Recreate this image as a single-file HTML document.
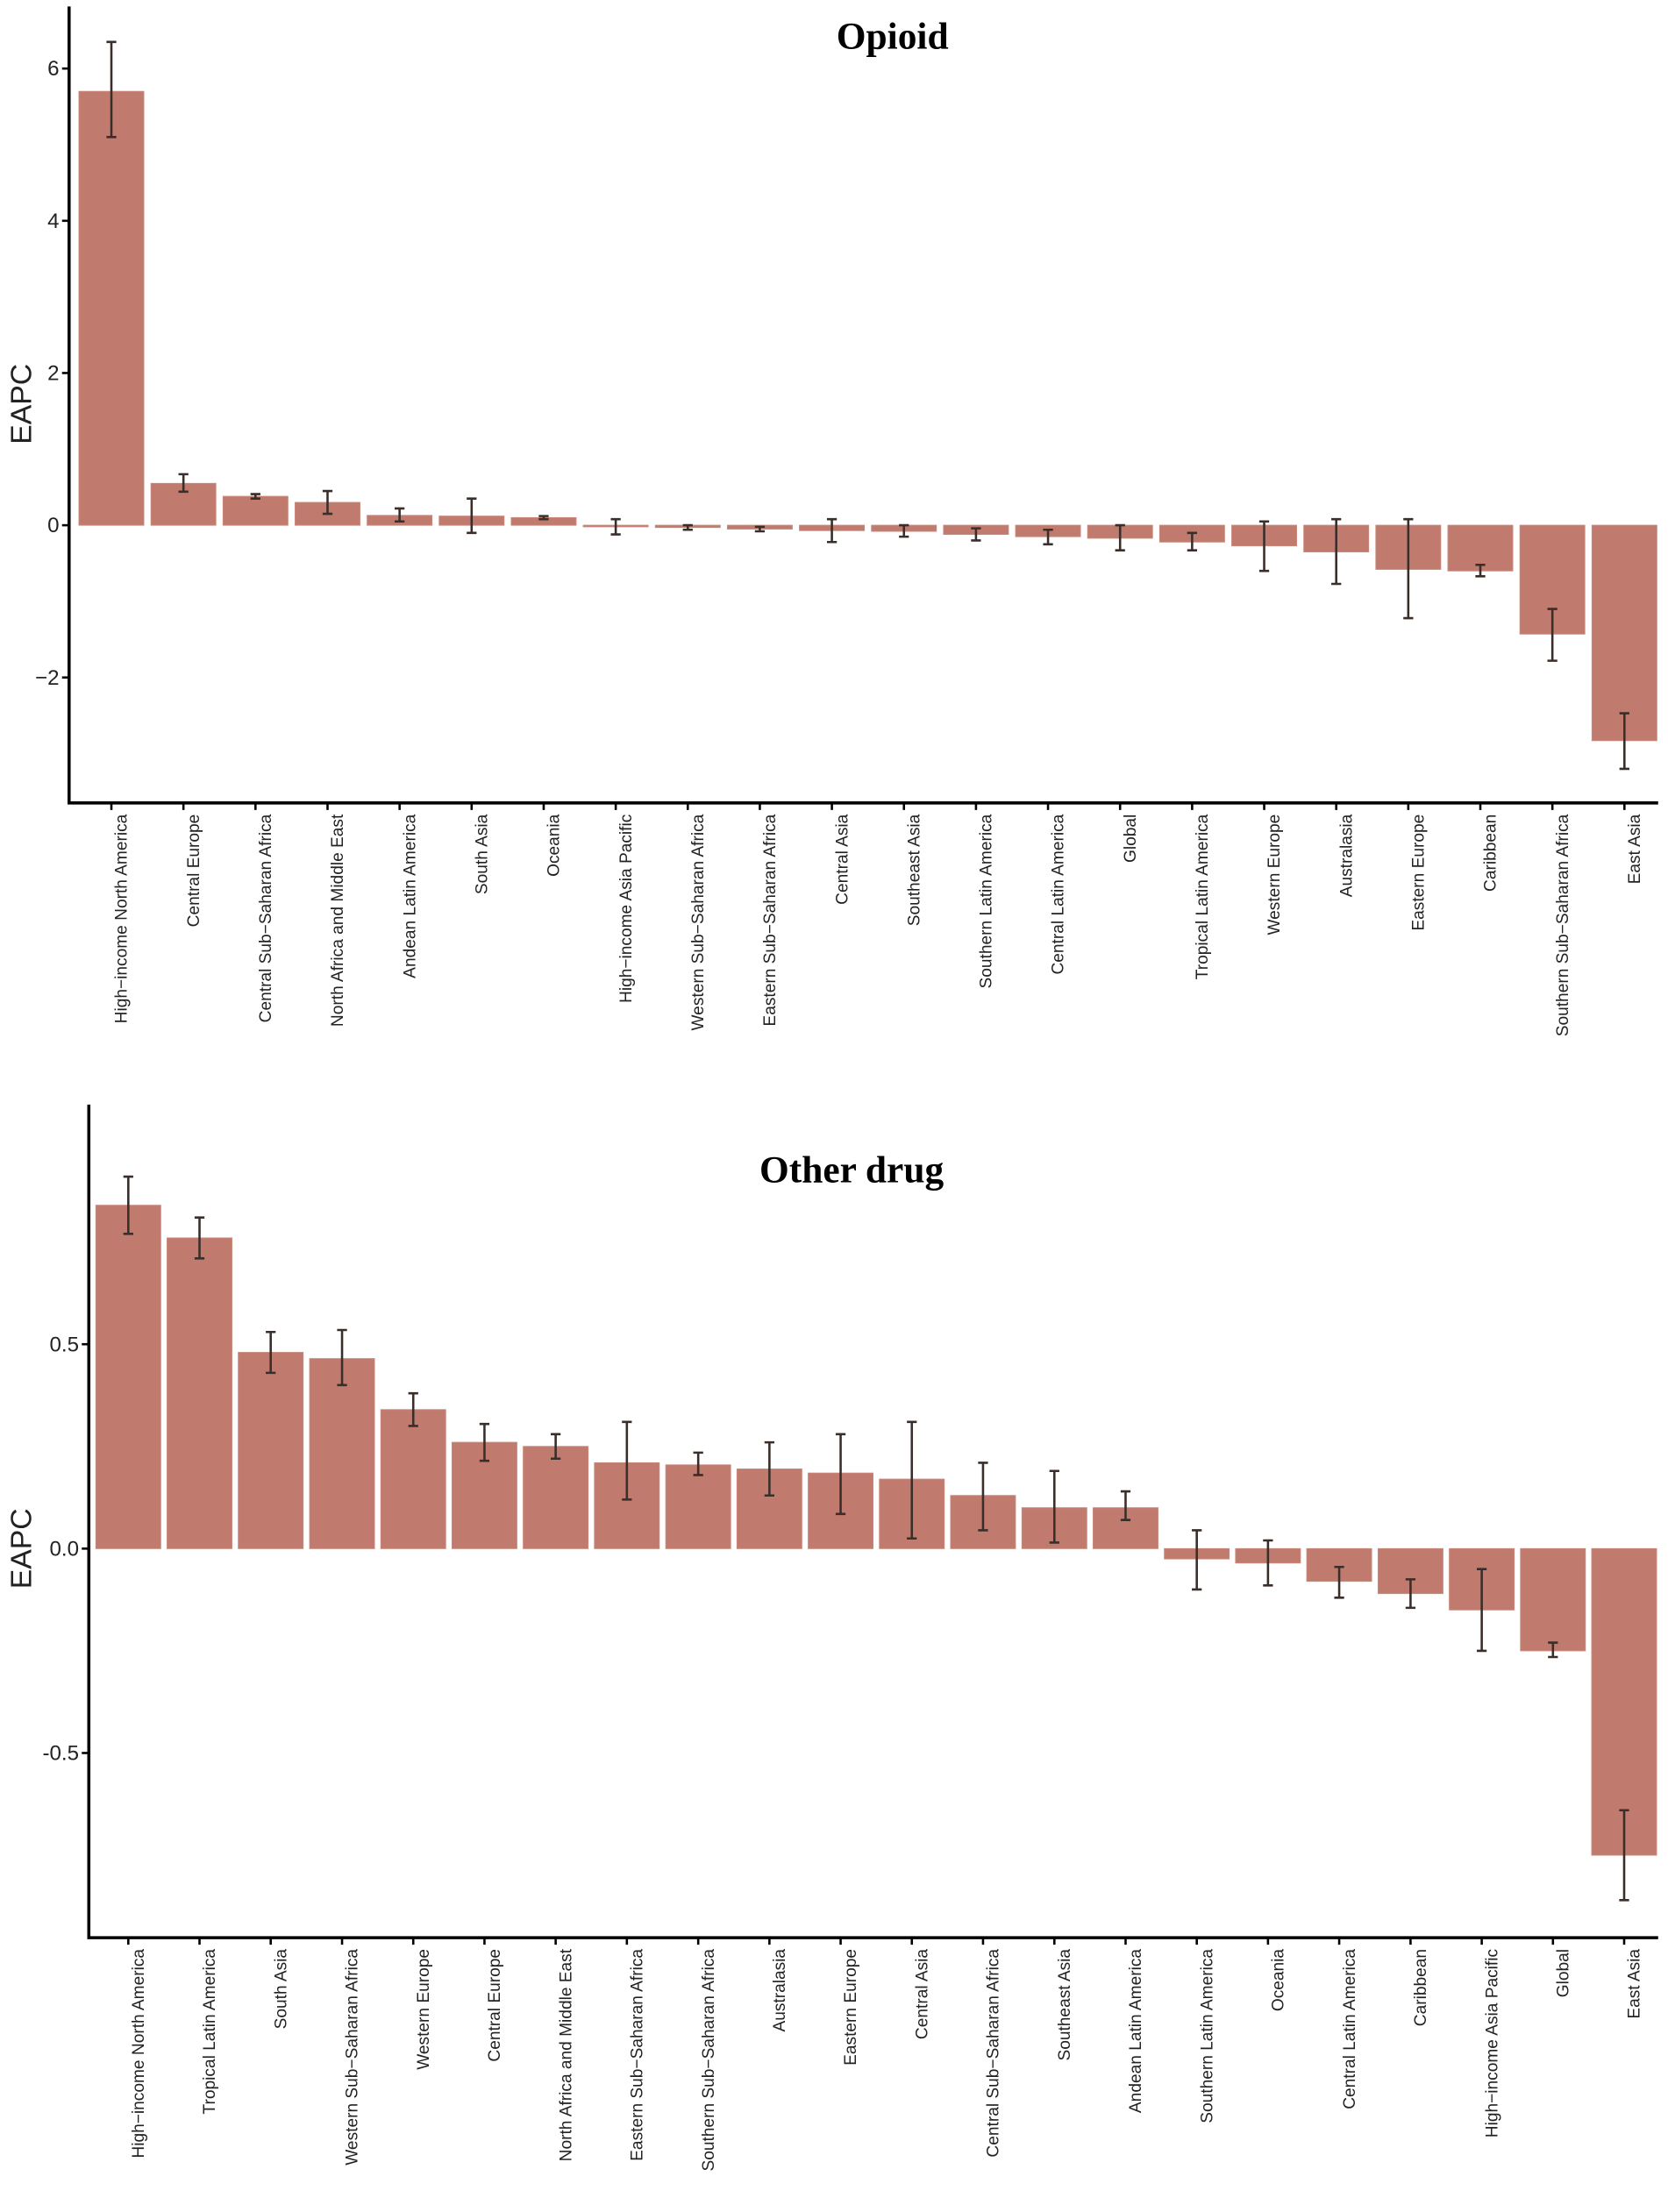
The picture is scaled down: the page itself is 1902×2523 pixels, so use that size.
<!DOCTYPE html>
<html><head><meta charset="utf-8"><style>
html,body{margin:0;padding:0;background:#fff;}
svg{display:block;}
.b{fill:#c17b6e;stroke:#c9877a;stroke-width:0.6}
.e{stroke:#3a2e2a;stroke-width:1.6;fill:none}
.t{font-family:"Liberation Sans",sans-serif;font-size:11.9px;fill:#222}
.y{font-family:"Liberation Sans",sans-serif;font-size:15px;fill:#222}
.ttl{font-family:"Liberation Serif",serif;font-weight:bold;font-size:27px;fill:#000}
.ax{stroke:#000;stroke-width:2.2;fill:none}
.tk{stroke:#000;stroke-width:1.6}
</style></head><body>
<svg width="1902" height="2523" viewBox="0 0 1183 1568" xmlns="http://www.w3.org/2000/svg">
<text class="ttl" x="633" y="34" text-anchor="middle">Opioid</text>
<text class="y" x="0" y="0" transform="translate(22,286) rotate(-90)" text-anchor="middle" style="font-size:21px">EAPC</text>
<g class="y" text-anchor="end">
<text x="42" y="53">6</text><text x="42" y="161">4</text><text x="42" y="269">2</text><text x="42" y="377">0</text><text x="42" y="485">−2</text>
</g>
<g class="tk"><line x1="44" y1="48" x2="49" y2="48"/><line x1="44" y1="156" x2="49" y2="156"/><line x1="44" y1="264" x2="49" y2="264"/><line x1="44" y1="372" x2="49" y2="372"/><line x1="44" y1="480" x2="49" y2="480"/></g>
<g>
<rect class="b" x="56" y="64.2" width="46" height="307.8"/>
<rect class="b" x="107.1" y="342.3" width="46" height="29.7"/>
<rect class="b" x="158.2" y="351.5" width="46" height="20.5"/>
<rect class="b" x="209.3" y="355.8" width="46" height="16.2"/>
<rect class="b" x="260.4" y="365" width="46" height="7"/>
<rect class="b" x="311.5" y="365.5" width="46" height="6.5"/>
<rect class="b" x="362.6" y="366.6" width="46" height="5.4"/>
<rect class="b" x="413.7" y="372" width="46" height="1.1"/>
<rect class="b" x="464.8" y="372" width="46" height="1.6"/>
<rect class="b" x="515.9" y="372" width="46" height="2.7"/>
<rect class="b" x="567" y="372" width="46" height="3.8"/>
<rect class="b" x="618.1" y="372" width="46" height="4.3"/>
<rect class="b" x="669.2" y="372" width="46" height="6.5"/>
<rect class="b" x="720.3" y="372" width="46" height="8.1"/>
<rect class="b" x="771.4" y="372" width="46" height="9.2"/>
<rect class="b" x="822.5" y="372" width="46" height="11.9"/>
<rect class="b" x="873.6" y="372" width="46" height="14.6"/>
<rect class="b" x="924.7" y="372" width="46" height="18.9"/>
<rect class="b" x="975.8" y="372" width="46" height="31.3"/>
<rect class="b" x="1026.9" y="372" width="46" height="32.4"/>
<rect class="b" x="1078" y="372" width="46" height="77.2"/>
<rect class="b" x="1129.1" y="372" width="46" height="152.8"/>
</g>
<path class="e" d="
M79 29.1V96.6M75.5 29.1h7M75.5 96.6h7
M130.1 335.8V348.2M126.6 335.8h7M126.6 348.2h7
M181.2 349.9V353.1M177.7 349.9h7M177.7 353.1h7
M232.3 347.7V363.9M228.8 347.7h7M228.8 363.9h7
M283.4 360.1V369.3M279.9 360.1h7M279.9 369.3h7
M334.5 353.1V377.4M331 353.1h7M331 377.4h7
M385.6 365.5V367.7M382.1 365.5h7M382.1 367.7h7
M436.7 367.7V378.5M433.2 367.7h7M433.2 378.5h7
M487.8 372V375.2M484.3 372h7M484.3 375.2h7
M538.9 373.1V376.3M535.4 373.1h7M535.4 376.3h7
M590 367.7V383.9M586.5 367.7h7M586.5 383.9h7
M641.1 372V380.1M637.6 372h7M637.6 380.1h7
M692.2 374.2V382.8M688.7 374.2h7M688.7 382.8h7
M743.3 375.2V385.5M739.8 375.2h7M739.8 385.5h7
M794.4 372V389.8M790.9 372h7M790.9 389.8h7
M845.5 377.4V389.8M842 377.4h7M842 389.8h7
M896.6 369.3V404.4M893.1 369.3h7M893.1 404.4h7
M947.7 367.7V413.6M944.2 367.7h7M944.2 413.6h7
M998.8 367.7V437.9M995.3 367.7h7M995.3 437.9h7
M1049.9 400.1V408.2M1046.4 400.1h7M1046.4 408.2h7
M1101 431.4V468.1M1097.5 431.4h7M1097.5 468.1h7
M1152.1 505.4V544.8M1148.6 505.4h7M1148.6 544.8h7"/>
<path class="ax" d="M49 4V569H1176"/>
<g class="tk">
<line x1="79" y1="569" x2="79" y2="574"/><line x1="130.1" y1="569" x2="130.1" y2="574"/><line x1="181.2" y1="569" x2="181.2" y2="574"/><line x1="232.3" y1="569" x2="232.3" y2="574"/><line x1="283.4" y1="569" x2="283.4" y2="574"/><line x1="334.5" y1="569" x2="334.5" y2="574"/><line x1="385.6" y1="569" x2="385.6" y2="574"/><line x1="436.7" y1="569" x2="436.7" y2="574"/><line x1="487.8" y1="569" x2="487.8" y2="574"/><line x1="538.9" y1="569" x2="538.9" y2="574"/><line x1="590" y1="569" x2="590" y2="574"/><line x1="641.1" y1="569" x2="641.1" y2="574"/><line x1="692.2" y1="569" x2="692.2" y2="574"/><line x1="743.3" y1="569" x2="743.3" y2="574"/><line x1="794.4" y1="569" x2="794.4" y2="574"/><line x1="845.5" y1="569" x2="845.5" y2="574"/><line x1="896.6" y1="569" x2="896.6" y2="574"/><line x1="947.7" y1="569" x2="947.7" y2="574"/><line x1="998.8" y1="569" x2="998.8" y2="574"/><line x1="1049.9" y1="569" x2="1049.9" y2="574"/><line x1="1101" y1="569" x2="1101" y2="574"/><line x1="1152.1" y1="569" x2="1152.1" y2="574"/>
</g>
<g class="t" text-anchor="end">
<text transform="translate(90,577) rotate(-90)">High−income North America</text>
<text transform="translate(141.1,577) rotate(-90)">Central Europe</text>
<text transform="translate(192.2,577) rotate(-90)">Central Sub−Saharan Africa</text>
<text transform="translate(243.3,577) rotate(-90)">North Africa and Middle East</text>
<text transform="translate(294.4,577) rotate(-90)">Andean Latin America</text>
<text transform="translate(345.5,577) rotate(-90)">South Asia</text>
<text transform="translate(396.6,577) rotate(-90)">Oceania</text>
<text transform="translate(447.7,577) rotate(-90)">High−income Asia Pacific</text>
<text transform="translate(498.8,577) rotate(-90)">Western Sub−Saharan Africa</text>
<text transform="translate(549.9,577) rotate(-90)">Eastern Sub−Saharan Africa</text>
<text transform="translate(601,577) rotate(-90)">Central Asia</text>
<text transform="translate(652.1,577) rotate(-90)">Southeast Asia</text>
<text transform="translate(703.2,577) rotate(-90)">Southern Latin America</text>
<text transform="translate(754.3,577) rotate(-90)">Central Latin America</text>
<text transform="translate(805.4,577) rotate(-90)">Global</text>
<text transform="translate(856.5,577) rotate(-90)">Tropical Latin America</text>
<text transform="translate(907.6,577) rotate(-90)">Western Europe</text>
<text transform="translate(958.7,577) rotate(-90)">Australasia</text>
<text transform="translate(1009.8,577) rotate(-90)">Eastern Europe</text>
<text transform="translate(1060.9,577) rotate(-90)">Caribbean</text>
<text transform="translate(1112,577) rotate(-90)">Southern Sub−Saharan Africa</text>
<text transform="translate(1163.1,577) rotate(-90)">East Asia</text>
</g>

<text class="ttl" x="604" y="838" text-anchor="middle">Other drug</text>
<text class="y" x="0" y="0" transform="translate(22,1098) rotate(-90)" text-anchor="middle" style="font-size:21px">EAPC</text>
<g class="y" text-anchor="end">
<text x="56" y="958">0.5</text><text x="56" y="1103">0.0</text><text x="56" y="1248">-0.5</text>
</g>
<g class="tk"><line x1="58" y1="953" x2="63" y2="953"/><line x1="58" y1="1098" x2="63" y2="1098"/><line x1="58" y1="1243" x2="63" y2="1243"/></g>
<g>
<rect class="b" x="68" y="854.4" width="46" height="243.6"/>
<rect class="b" x="118.5" y="877.6" width="46" height="220.4"/>
<rect class="b" x="169" y="958.8" width="46" height="139.2"/>
<rect class="b" x="219.6" y="963.2" width="46" height="134.8"/>
<rect class="b" x="270.1" y="999.4" width="46" height="98.6"/>
<rect class="b" x="320.6" y="1022.6" width="46" height="75.4"/>
<rect class="b" x="371.1" y="1025.5" width="46" height="72.5"/>
<rect class="b" x="421.6" y="1037.1" width="46" height="60.9"/>
<rect class="b" x="472.2" y="1038.6" width="46" height="59.4"/>
<rect class="b" x="522.7" y="1041.5" width="46" height="56.5"/>
<rect class="b" x="573.2" y="1044.4" width="46" height="53.6"/>
<rect class="b" x="623.7" y="1048.7" width="46" height="49.3"/>
<rect class="b" x="674.2" y="1060.3" width="46" height="37.7"/>
<rect class="b" x="724.8" y="1069" width="46" height="29"/>
<rect class="b" x="775.3" y="1069" width="46" height="29"/>
<rect class="b" x="825.8" y="1098" width="46" height="7.3"/>
<rect class="b" x="876.3" y="1098" width="46" height="10.2"/>
<rect class="b" x="926.8" y="1098" width="46" height="23.2"/>
<rect class="b" x="977.4" y="1098" width="46" height="31.9"/>
<rect class="b" x="1027.9" y="1098" width="46" height="43.5"/>
<rect class="b" x="1078.4" y="1098" width="46" height="72.5"/>
<rect class="b" x="1128.9" y="1098" width="46" height="217.5"/>
</g>
<path class="e" d="
M91 834.1V874.7M87.5 834.1h7M87.5 874.7h7
M141.5 863.1V892.1M138 863.1h7M138 892.1h7
M192 944.3V973.3M188.5 944.3h7M188.5 973.3h7
M242.6 942.9V982M239.1 942.9h7M239.1 982h7
M293.1 987.8V1011M289.6 987.8h7M289.6 1011h7
M343.6 1009.6V1035.7M340.1 1009.6h7M340.1 1035.7h7
M394.1 1016.8V1034.2M390.6 1016.8h7M390.6 1034.2h7
M444.6 1008.1V1063.2M441.1 1008.1h7M441.1 1063.2h7
M495.2 1029.9V1045.8M491.7 1029.9h7M491.7 1045.8h7
M545.7 1022.6V1060.3M542.2 1022.6h7M542.2 1060.3h7
M596.2 1016.8V1073.4M592.7 1016.8h7M592.7 1073.4h7
M646.7 1008.1V1090.8M643.2 1008.1h7M643.2 1090.8h7
M697.2 1037.1V1085M693.7 1037.1h7M693.7 1085h7
M747.8 1042.9V1093.7M744.3 1042.9h7M744.3 1093.7h7
M798.3 1057.4V1077.7M794.8 1057.4h7M794.8 1077.7h7
M848.8 1085V1127M845.3 1085h7M845.3 1127h7
M899.3 1092.2V1124.1M895.8 1092.2h7M895.8 1124.1h7
M949.8 1111V1132.8M946.3 1111h7M946.3 1132.8h7
M1000.4 1119.8V1140M996.9 1119.8h7M996.9 1140h7
M1050.9 1112.5V1170.5M1047.4 1112.5h7M1047.4 1170.5h7
M1101.4 1164.7V1174.9M1097.9 1164.7h7M1097.9 1174.9h7
M1151.9 1283.6V1347.4M1148.4 1283.6h7M1148.4 1347.4h7"/>
<path class="ax" d="M63 783V1374H1176"/>
<g class="tk">
<line x1="91" y1="1374" x2="91" y2="1379"/><line x1="141.5" y1="1374" x2="141.5" y2="1379"/><line x1="192" y1="1374" x2="192" y2="1379"/><line x1="242.6" y1="1374" x2="242.6" y2="1379"/><line x1="293.1" y1="1374" x2="293.1" y2="1379"/><line x1="343.6" y1="1374" x2="343.6" y2="1379"/><line x1="394.1" y1="1374" x2="394.1" y2="1379"/><line x1="444.6" y1="1374" x2="444.6" y2="1379"/><line x1="495.2" y1="1374" x2="495.2" y2="1379"/><line x1="545.7" y1="1374" x2="545.7" y2="1379"/><line x1="596.2" y1="1374" x2="596.2" y2="1379"/><line x1="646.7" y1="1374" x2="646.7" y2="1379"/><line x1="697.2" y1="1374" x2="697.2" y2="1379"/><line x1="747.8" y1="1374" x2="747.8" y2="1379"/><line x1="798.3" y1="1374" x2="798.3" y2="1379"/><line x1="848.8" y1="1374" x2="848.8" y2="1379"/><line x1="899.3" y1="1374" x2="899.3" y2="1379"/><line x1="949.8" y1="1374" x2="949.8" y2="1379"/><line x1="1000.4" y1="1374" x2="1000.4" y2="1379"/><line x1="1050.9" y1="1374" x2="1050.9" y2="1379"/><line x1="1101.4" y1="1374" x2="1101.4" y2="1379"/><line x1="1151.9" y1="1374" x2="1151.9" y2="1379"/>
</g>
<g class="t" text-anchor="end">
<text transform="translate(102,1382) rotate(-90)">High−income North America</text>
<text transform="translate(152.5,1382) rotate(-90)">Tropical Latin America</text>
<text transform="translate(203,1382) rotate(-90)">South Asia</text>
<text transform="translate(253.6,1382) rotate(-90)">Western Sub−Saharan Africa</text>
<text transform="translate(304.1,1382) rotate(-90)">Western Europe</text>
<text transform="translate(354.6,1382) rotate(-90)">Central Europe</text>
<text transform="translate(405.1,1382) rotate(-90)">North Africa and Middle East</text>
<text transform="translate(455.6,1382) rotate(-90)">Eastern Sub−Saharan Africa</text>
<text transform="translate(506.2,1382) rotate(-90)">Southern Sub−Saharan Africa</text>
<text transform="translate(556.7,1382) rotate(-90)">Australasia</text>
<text transform="translate(607.2,1382) rotate(-90)">Eastern Europe</text>
<text transform="translate(657.7,1382) rotate(-90)">Central Asia</text>
<text transform="translate(708.2,1382) rotate(-90)">Central Sub−Saharan Africa</text>
<text transform="translate(758.8,1382) rotate(-90)">Southeast Asia</text>
<text transform="translate(809.3,1382) rotate(-90)">Andean Latin America</text>
<text transform="translate(859.8,1382) rotate(-90)">Southern Latin America</text>
<text transform="translate(910.3,1382) rotate(-90)">Oceania</text>
<text transform="translate(960.8,1382) rotate(-90)">Central Latin America</text>
<text transform="translate(1011.4,1382) rotate(-90)">Caribbean</text>
<text transform="translate(1061.9,1382) rotate(-90)">High−income Asia Pacific</text>
<text transform="translate(1112.4,1382) rotate(-90)">Global</text>
<text transform="translate(1162.9,1382) rotate(-90)">East Asia</text>
</g>
</svg>
</body></html>
